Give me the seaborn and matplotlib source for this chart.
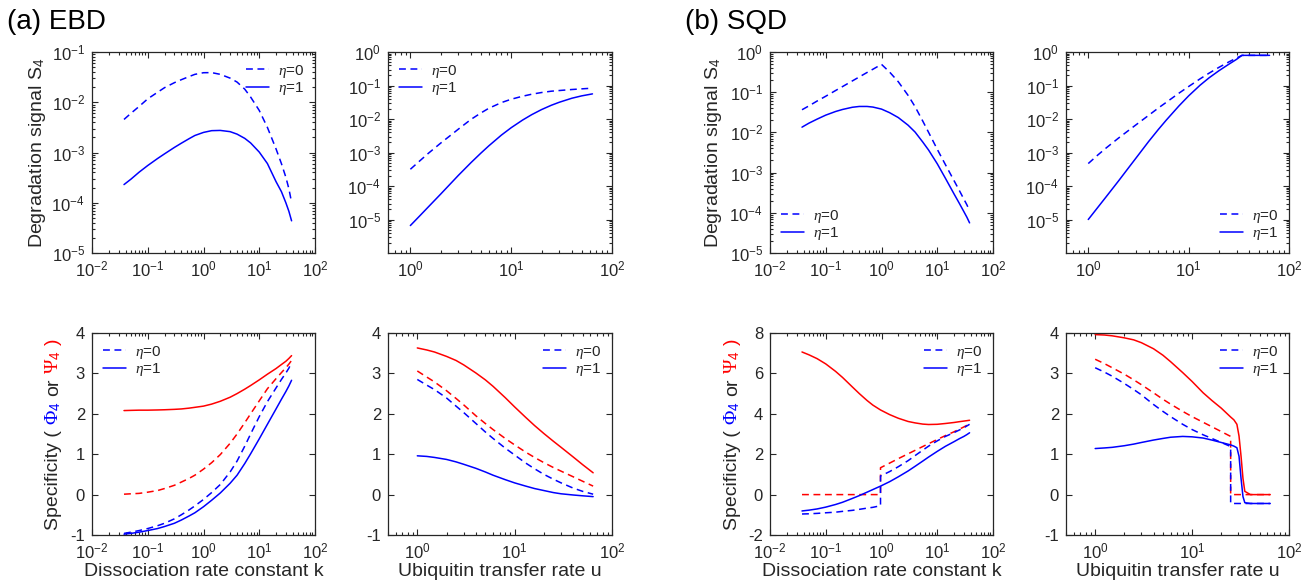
import numpy as np
import pandas as pd
import matplotlib
matplotlib.use('Agg')
import matplotlib.pyplot as plt
import seaborn as sns
from matplotlib.lines import Line2D
from matplotlib.ticker import LogLocator, NullFormatter

# rate grids
k_grid = [0.0375, 0.05, 0.07, 0.1, 0.15, 0.2, 0.3, 0.4, 0.55, 0.7, 1, 1.4, 2, 3, 4, 5.5, 7, 10, 14, 20, 25, 30, 34, 38]
u_grid = [1, 1.25, 1.5, 2, 2.5, 3, 4, 5, 6, 8, 10, 13, 16, 20, 25, 30, 40, 50, 64]
u_grid6 = [1, 1.25, 1.5, 2, 2.5, 3, 4, 5, 6, 8, 10, 13, 16, 20, 25, 30, 34, 40, 50, 64]
k_grid7 = [0.0375, 0.05, 0.07, 0.1, 0.15, 0.2, 0.3, 0.4, 0.55, 0.7, 0.96, 0.96, 1.4, 2, 3, 4, 5.5, 7, 10, 14, 20, 25, 30, 34, 38]
u_grid8 = [1, 1.25, 1.5, 2, 2.5, 3, 4, 5, 6, 8, 10, 13, 16, 20, 25, 25, 27, 29, 30.5, 32, 33.5, 35, 40, 50, 64]

# (a) EBD - degradation signal S4
s4_ebd_k_eta0 = [4.55e-3, 6.03e-3, 8.26e-3, 1.17e-2, 1.58e-2, 1.95e-2, 2.45e-2, 2.81e-2, 3.24e-2, 3.59e-2, 3.87e-2, 3.89e-2,
                 3.59e-2, 3.02e-2, 2.52e-2, 1.82e-2, 1.27e-2, 6.87e-3, 3.16e-3, 1.18e-3, 6.0e-4, 3.22e-4, 1.9e-4, 1.02e-4]
s4_ebd_k_eta1 = [2.30e-4, 2.95e-4, 4.06e-4, 5.51e-4, 7.59e-4, 9.40e-4, 1.26e-3, 1.53e-3, 1.88e-3, 2.18e-3, 2.51e-3, 2.72e-3,
                 2.75e-3, 2.60e-3, 2.32e-3, 1.91e-3, 1.55e-3, 1.02e-3, 6.03e-4, 2.63e-4, 1.66e-4, 1.0e-4, 6.76e-5, 4.37e-5]
s4_ebd_u_eta0 = [3.16e-4, 5.75e-4, 9.33e-4, 1.91e-3, 3.24e-3, 5.01e-3, 9.77e-3, 1.51e-2, 2.09e-2, 3.09e-2, 3.89e-2, 4.79e-2,
                 5.50e-2, 6.17e-2, 6.76e-2, 7.08e-2, 7.59e-2, 7.94e-2, 8.32e-2]
s4_ebd_u_eta1 = [6.6e-6, 1.32e-5, 2.34e-5, 5.75e-5, 1.17e-4, 2.09e-4, 5.01e-4, 9.55e-4, 1.58e-3, 3.31e-3, 5.50e-3, 9.33e-3,
                 1.35e-2, 1.91e-2, 2.57e-2, 3.16e-2, 4.17e-2, 4.90e-2, 5.62e-2]

# (a) EBD - specificity (phi blue, psi red)
phi_ebd_k_eta0 = [-0.96, -0.93, -0.89, -0.84, -0.77, -0.71, -0.60, -0.50, -0.38, -0.28, -0.12, 0.05,
                  0.25, 0.56, 0.83, 1.20, 1.50, 1.93, 2.30, 2.64, 2.85, 3.01, 3.13, 3.27]
phi_ebd_k_eta1 = [-0.98, -0.96, -0.93, -0.89, -0.84, -0.79, -0.71, -0.63, -0.53, -0.45, -0.30, -0.14,
                  0.04, 0.28, 0.48, 0.77, 1.01, 1.38, 1.74, 2.12, 2.36, 2.55, 2.69, 2.83]
psi_ebd_k_eta0 = [0.01, 0.02, 0.03, 0.06, 0.10, 0.15, 0.23, 0.31, 0.40, 0.48, 0.63, 0.79,
                  0.99, 1.27, 1.50, 1.78, 2.00, 2.32, 2.62, 2.87, 3.02, 3.14, 3.23, 3.32]
psi_ebd_k_eta1 = [2.08, 2.085, 2.09, 2.09, 2.095, 2.10, 2.11, 2.12, 2.14, 2.16, 2.19, 2.24,
                  2.31, 2.41, 2.50, 2.61, 2.70, 2.84, 2.98, 3.12, 3.22, 3.30, 3.37, 3.44]
phi_ebd_u_eta0 = [2.85, 2.71, 2.60, 2.39, 2.19, 2.03, 1.76, 1.55, 1.39, 1.15, 0.98, 0.78, 0.64, 0.50, 0.38, 0.29, 0.16, 0.08, 0.01]
phi_ebd_u_eta1 = [0.96, 0.945, 0.92, 0.87, 0.81, 0.75, 0.65, 0.56, 0.48, 0.37, 0.29, 0.21, 0.15, 0.10, 0.05, 0.02, -0.01, -0.03, -0.05]
psi_ebd_u_eta0 = [3.06, 2.91, 2.79, 2.57, 2.38, 2.22, 1.95, 1.76, 1.61, 1.39, 1.23, 1.05, 0.92, 0.79, 0.67, 0.58, 0.44, 0.33, 0.21]
psi_ebd_u_eta1 = [3.63, 3.58, 3.53, 3.42, 3.32, 3.21, 3.01, 2.84, 2.68, 2.40, 2.17, 1.91, 1.71, 1.51, 1.32, 1.17, 0.93, 0.74, 0.54]

# (b) SQD - degradation signal S4
s4_sqd_k_eta0 = [0.0366, 0.0457, 0.0603, 0.0794, 0.110, 0.138, 0.191, 0.240, 0.309, 0.372, 0.493, 0.316,
                 0.182, 0.0832, 0.0437, 0.0191, 0.0100, 3.80e-3, 1.58e-3, 6.31e-4, 3.55e-4, 2.19e-4, 1.58e-4, 1.12e-4]
s4_sqd_k_eta1 = [0.0135, 0.0170, 0.0214, 0.0269, 0.0331, 0.0372, 0.0422, 0.0442, 0.0442, 0.0427, 0.0380, 0.0309,
                 0.0234, 0.0151, 0.0102, 5.75e-3, 3.63e-3, 1.66e-3, 7.24e-4, 2.95e-4, 1.70e-4, 1.07e-4, 7.76e-5, 5.62e-5]
s4_sqd_u_eta0 = [4.68e-4, 8.51e-4, 1.35e-3, 2.69e-3, 4.47e-3, 6.76e-3, 1.29e-2, 2.14e-2, 3.16e-2, 5.89e-2, 9.33e-2, 0.158,
                 0.234, 0.347, 0.501, 0.661, 0.794, 0.794, 0.794, 0.794]
s4_sqd_u_eta1 = [1.0e-5, 2.34e-5, 4.68e-5, 1.41e-4, 3.39e-4, 6.92e-4, 2.14e-3, 4.90e-3, 9.33e-3, 2.45e-2, 4.90e-2, 0.102,
                 0.170, 0.275, 0.427, 0.603, 0.794, 0.794, 0.794, 0.794]

# (b) SQD - specificity (step at k ~ 1 and u ~ 25)
phi_sqd_k_eta0 = [-0.96, -0.95, -0.93, -0.90, -0.87, -0.83, -0.78, -0.73, -0.67, -0.63, -0.55, 0.92,
                  1.14, 1.38, 1.68, 1.93, 2.20, 2.40, 2.66, 2.88, 3.07, 3.20, 3.31, 3.40, 3.48]
phi_sqd_k_eta1 = [-0.81, -0.77, -0.71, -0.62, -0.49, -0.38, -0.19, -0.05, 0.12, 0.25, 0.42, 0.42,
                  0.64, 0.88, 1.17, 1.40, 1.66, 1.86, 2.14, 2.39, 2.62, 2.77, 2.88, 2.97, 3.06]
psi_sqd_k_eta0 = [0.0, 0.0, 0.0, 0.0, 0.0, 0.0, 0.0, 0.0, 0.0, 0.0, 0.0, 1.33,
                  1.56, 1.78, 2.02, 2.19, 2.38, 2.52, 2.73, 2.92, 3.11, 3.24, 3.35, 3.43, 3.50]
psi_sqd_k_eta1 = [7.06, 6.92, 6.73, 6.47, 6.10, 5.80, 5.33, 5.00, 4.66, 4.43, 4.19, 4.19,
                  3.96, 3.78, 3.62, 3.55, 3.49, 3.47, 3.48, 3.52, 3.57, 3.61, 3.64, 3.66, 3.68]
phi_sqd_u_eta0 = [3.14, 3.03, 2.93, 2.75, 2.60, 2.47, 2.23, 2.06, 1.93, 1.74, 1.61, 1.48, 1.39, 1.29, 1.19,
                  -0.22, -0.22, -0.22, -0.22, -0.22, -0.22, -0.22, -0.22, -0.22, -0.22]
phi_sqd_u_eta1 = [1.14, 1.155, 1.17, 1.21, 1.25, 1.29, 1.35, 1.39, 1.42, 1.44, 1.43, 1.40, 1.35, 1.29, 1.23,
                  1.23, 1.20, 1.16, 0.95, 0.40, -0.05, -0.20, -0.22, -0.22, -0.22]
psi_sqd_u_eta0 = [3.35, 3.24, 3.14, 2.98, 2.84, 2.72, 2.52, 2.36, 2.24, 2.06, 1.93, 1.79, 1.68, 1.56, 1.44,
                  0.0, 0.0, 0.0, 0.0, 0.0, 0.0, 0.0, 0.0, 0.0, 0.0]
psi_sqd_u_eta1 = [3.96, 3.95, 3.93, 3.88, 3.83, 3.76, 3.61, 3.45, 3.29, 3.02, 2.80, 2.52, 2.33, 2.14, 1.92,
                  1.92, 1.85, 1.74, 1.45, 0.95, 0.40, 0.08, 0.0, 0.0, 0.0]

BLUE = '#0000ff'
RED = '#ff0000'
INK = '#262626'
LW = 1.1
DASH = (0, (4.5, 3))
W, H = 1310, 587

sns.set_theme(style='ticks')
plt.rcParams['font.family'] = ['Liberation Sans', 'DejaVu Sans']
plt.rcParams.update({
    'mathtext.fontset': 'custom',
    'mathtext.rm': 'Liberation Serif',
    'mathtext.it': 'Liberation Serif:italic',
    'mathtext.sf': 'Liberation Sans',
    'axes.unicode_minus': False,
    'axes.edgecolor': INK,
    'axes.linewidth': 0.9,
    'text.color': INK,
})

fig = plt.figure(figsize=(W / 100, H / 100), dpi=100)


def px_axes(l, t, r, b):
    return fig.add_axes([l / W, 1 - b / H, (r - l) / W, (b - t) / H])


def draw(ax, x, y, color, dashed):
    sns.lineplot(x=x, y=y, ax=ax, color=color, lw=LW,
                 linestyle=DASH if dashed else '-',
                 estimator=None, sort=False, legend=False)


def style(ax, xlog_lim, xticks, ylog=None, ylin=None):
    ax.set_xscale('log')
    ax.set_xlim(*xlog_lim)
    ax.set_xticks(xticks)
    ax.xaxis.set_minor_locator(LogLocator(base=10, subs=np.arange(2, 10), numticks=100))
    ax.xaxis.set_minor_formatter(NullFormatter())
    if ylog is not None:
        lim, ticks = ylog
        ax.set_yscale('log')
        ax.set_ylim(*lim)
        ax.set_yticks(ticks)
        ax.yaxis.set_minor_locator(LogLocator(base=10, subs=np.arange(2, 10), numticks=100))
        ax.yaxis.set_minor_formatter(NullFormatter())
    else:
        lim, ticks = ylin
        ax.set_ylim(*lim)
        ax.set_yticks(ticks)
    ax.tick_params(which='both', direction='in', top=True, right=True,
                   color=INK, labelcolor=INK, labelsize=12, width=0.8)
    ax.tick_params(which='major', length=4, pad=5)
    ax.tick_params(which='minor', length=2.3)
    for s in ax.spines.values():
        s.set_visible(True)
    ax.set_xlabel('')
    ax.set_ylabel('')


def eta_legend(ax, loc):
    handles = [Line2D([], [], color=BLUE, lw=LW, linestyle=DASH),
               Line2D([], [], color=BLUE, lw=LW)]
    ax.legend(handles, [r'$\eta$=0', r'$\eta$=1'], loc=loc, frameon=False,
              fontsize=11, handlelength=1.5, handletextpad=0.6,
              labelspacing=0.05, borderaxespad=0.3)


def rotated_label(pieces, x_base, y_center, size=14, gap=5.0):
    r = fig.canvas.get_renderer()
    arts = [fig.text(0, 0, s, color=c, fontsize=size, rotation=90,
                     rotation_mode='anchor', ha='left', va='baseline')
            for s, c in pieces]
    lens = [t.get_window_extent(r).height for t in arts]
    total = sum(lens) + gap * (len(arts) - 1)
    y = y_center - total / 2
    for t, L in zip(arts, lens):
        t.set_position((x_base / W, y / H))
        y += L + gap


cols = [(92, 315), (388, 612), (770, 993), (1066, 1289)]
top_row = (52, 253)
bot_row = (333, 535)

ax1 = px_axes(cols[0][0], top_row[0], cols[0][1], top_row[1])
ax2 = px_axes(cols[1][0], top_row[0], cols[1][1], top_row[1])
ax3 = px_axes(cols[0][0], bot_row[0], cols[0][1], bot_row[1])
ax4 = px_axes(cols[1][0], bot_row[0], cols[1][1], bot_row[1])
ax5 = px_axes(cols[2][0], top_row[0], cols[2][1], top_row[1])
ax6 = px_axes(cols[3][0], top_row[0], cols[3][1], top_row[1])
ax7 = px_axes(cols[2][0], bot_row[0], cols[2][1], bot_row[1])
ax8 = px_axes(cols[3][0], bot_row[0], cols[3][1], bot_row[1])

k_ticks = [1e-2, 1e-1, 1e0, 1e1, 1e2]
u_ticks = [1e0, 1e1, 1e2]

# top row: degradation signal
for ax in (ax1, ax2, ax5, ax6):
    ax.set_xscale('log')
    ax.set_yscale('log')
draw(ax1, k_grid, s4_ebd_k_eta0, BLUE, True)
draw(ax1, k_grid, s4_ebd_k_eta1, BLUE, False)
draw(ax2, u_grid, s4_ebd_u_eta0, BLUE, True)
draw(ax2, u_grid, s4_ebd_u_eta1, BLUE, False)
draw(ax5, k_grid, s4_sqd_k_eta0, BLUE, True)
draw(ax5, k_grid, s4_sqd_k_eta1, BLUE, False)
draw(ax6, u_grid6, s4_sqd_u_eta0, BLUE, True)
draw(ax6, u_grid6, s4_sqd_u_eta1, BLUE, False)

style(ax1, (1e-2, 1e2), k_ticks, ylog=((1e-5, 1e-1), [1e-5, 1e-4, 1e-3, 1e-2, 1e-1]))
style(ax2, (0.6, 1e2), u_ticks, ylog=((1e-6, 1e0), [1e-5, 1e-4, 1e-3, 1e-2, 1e-1, 1e0]))
style(ax5, (1e-2, 1e2), k_ticks, ylog=((1e-5, 1e0), [1e-5, 1e-4, 1e-3, 1e-2, 1e-1, 1e0]))
style(ax6, (0.6, 1e2), u_ticks, ylog=((1e-6, 1e0), [1e-5, 1e-4, 1e-3, 1e-2, 1e-1, 1e0]))

# bottom row: specificity
for ax in (ax3, ax4, ax7, ax8):
    ax.set_xscale('log')
draw(ax3, k_grid, psi_ebd_k_eta1, RED, False)
draw(ax3, k_grid, psi_ebd_k_eta0, RED, True)
draw(ax3, k_grid, phi_ebd_k_eta0, BLUE, True)
draw(ax3, k_grid, phi_ebd_k_eta1, BLUE, False)
draw(ax4, u_grid, psi_ebd_u_eta1, RED, False)
draw(ax4, u_grid, psi_ebd_u_eta0, RED, True)
draw(ax4, u_grid, phi_ebd_u_eta0, BLUE, True)
draw(ax4, u_grid, phi_ebd_u_eta1, BLUE, False)
draw(ax7, k_grid7, psi_sqd_k_eta1, RED, False)
draw(ax7, k_grid7, psi_sqd_k_eta0, RED, True)
draw(ax7, k_grid7, phi_sqd_k_eta0, BLUE, True)
draw(ax7, k_grid7, phi_sqd_k_eta1, BLUE, False)
draw(ax8, u_grid8, psi_sqd_u_eta1, RED, False)
draw(ax8, u_grid8, psi_sqd_u_eta0, RED, True)
draw(ax8, u_grid8, phi_sqd_u_eta0, BLUE, True)
draw(ax8, u_grid8, phi_sqd_u_eta1, BLUE, False)

style(ax3, (1e-2, 1e2), k_ticks, ylin=((-1, 4), [-1, 0, 1, 2, 3, 4]))
style(ax4, (0.5, 1e2), u_ticks, ylin=((-1, 4), [-1, 0, 1, 2, 3, 4]))
style(ax7, (1e-2, 1e2), k_ticks, ylin=((-2, 8), [-2, 0, 2, 4, 6, 8]))
style(ax8, (0.5, 1e2), u_ticks, ylin=((-1, 4), [-1, 0, 1, 2, 3, 4]))

for ax in (ax3, ax7):
    ax.set_xlabel('Dissociation rate constant k', fontsize=14, color=INK, labelpad=1)
for ax in (ax4, ax8):
    ax.set_xlabel('Ubiquitin transfer rate u', fontsize=14, color=INK, labelpad=1)

eta_legend(ax1, 'upper right')
eta_legend(ax2, 'upper left')
eta_legend(ax3, 'upper left')
eta_legend(ax4, 'upper right')
eta_legend(ax5, 'lower left')
eta_legend(ax6, 'lower right')
eta_legend(ax7, 'upper right')
eta_legend(ax8, 'upper right')

# y labels
rotated_label([(r'Degradation signal S$_\mathsf{4}$', INK)], 42, H - 152.5)
rotated_label([(r'Degradation signal S$_\mathsf{4}$', INK)], 718, H - 152.5)
spec = [('Specificity (', INK), (r'$\Phi_\mathsf{4}$', BLUE), ('or', INK),
        (r'$\Psi_\mathsf{4}$', RED), (')', RED)]
rotated_label(spec, 58, H - 434)
rotated_label(spec, 737, H - 434)

fig.text(7 / W, 1 - 29 / H, '(a) EBD', fontsize=20, color='black', va='baseline')
fig.text(685 / W, 1 - 29 / H, '(b) SQD', fontsize=20, color='black', va='baseline')

fig.savefig('out.png', dpi=100)
